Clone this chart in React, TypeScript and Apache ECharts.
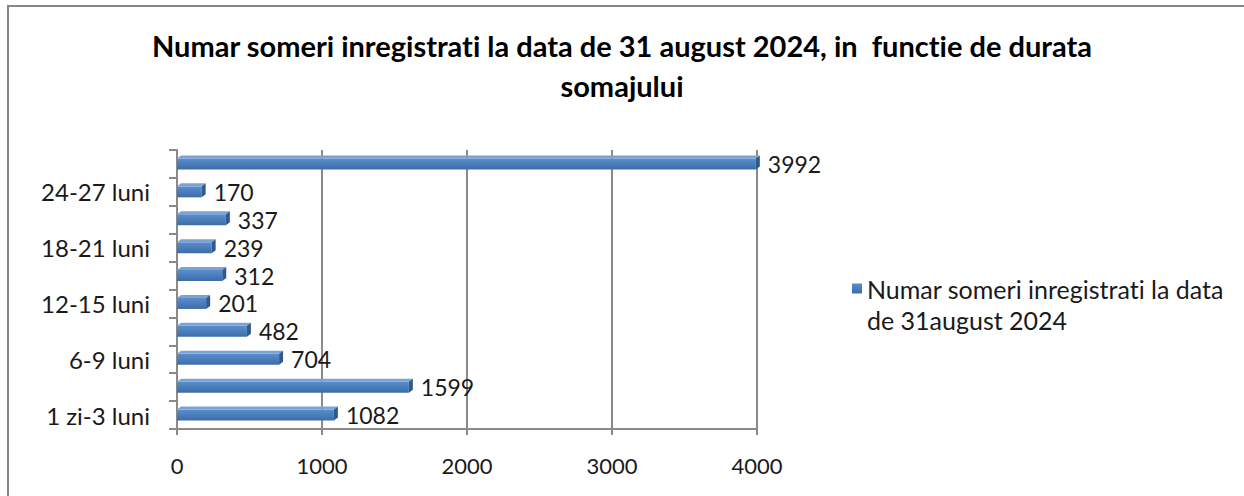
import React, { useEffect, useRef } from "react";
import * as echarts from "echarts";

const categories = [
  "1 zi-3 luni",
  "3-6 luni",
  "6-9 luni",
  "9-12 luni",
  "12-15 luni",
  "15-18 luni",
  "18-21 luni",
  "21-24 luni",
  "24-27 luni",
  "peste 27 luni",
];
const values = [1082, 1599, 704, 482, 201, 312, 239, 337, 170, 3992];
const xMin = 0;
const xMax = 4000;
const xInterval = 1000;
const titleText =
  "Numar someri inregistrati la data de 31 august 2024, in  functie de durata\nsomajului";
const seriesName = "Numar someri inregistrati la data de 31august 2024";
const legendLines = ["Numar someri inregistrati la data", "de 31august 2024"];

const FONT = "Lato, 'Open Sans', 'Noto Sans', sans-serif";

export default function App() {
  const ref = useRef<HTMLDivElement>(null);
  useEffect(() => {
    if (!ref.current) return;
    const chart = echarts.init(ref.current, undefined, { renderer: "svg" });
    const capData = values.map((v, i) => [v, i]);
    chart.setOption({
      animation: false,
      backgroundColor: "#ffffff",
      textStyle: { fontFamily: FONT },
      title: {
        text: titleText,
        left: "center",
        top: 20,
        padding: [5, 5, 5, 23],
        textStyle: {
          fontFamily: FONT,
          fontWeight: "bold",
          fontSize: 29,
          lineHeight: 40,
          color: "#000",
        },
      },
      graphic: [
        {
          type: "rect",
          shape: { x: 8, y: 6, width: 1400, height: 700 },
          style: { fill: "none", stroke: "#868686", lineWidth: 2 },
          silent: true,
          z: -10,
        },
      ],
      legend: {
        show: true,
        left: 847,
        top: 237,
        orient: "vertical",
        icon: "rect",
        itemWidth: 10,
        itemHeight: 10,
        itemGap: 6,
        data: [seriesName],
        formatter: () => " \n" + legendLines.join("\n"),
        textStyle: {
          fontFamily: FONT,
          fontSize: 25,
          lineHeight: 31,
          color: "#1a1a1a",
        },
      },
      grid: { left: 177, right: 487, top: 150, bottom: 67, containLabel: false },
      xAxis: {
        type: "value",
        min: xMin,
        max: xMax,
        interval: xInterval,
        axisLine: { show: true, lineStyle: { color: "#8a8a8a", width: 2 } },
        axisTick: { show: true, length: 6, lineStyle: { color: "#8a8a8a", width: 2 } },
        splitLine: { show: true, lineStyle: { color: "#8a8a8a", width: 2 } },
        axisLabel: {
          fontFamily: FONT,
          fontSize: 22,
          color: "#1a1a1a",
          margin: 25,
          formatter: (v: number) => String(v),
        },
      },
      yAxis: {
        type: "category",
        data: categories,
        axisLine: { show: true, lineStyle: { color: "#8a8a8a", width: 2 } },
        axisTick: { show: true, interval: 0, length: 8, lineStyle: { color: "#8a8a8a", width: 2 } },
        axisLabel: {
          interval: 1,
          fontFamily: FONT,
          fontSize: 24,
          color: "#1a1a1a",
          margin: 27,
        },
      },
      series: [
        {
          name: seriesName,
          type: "bar",
          data: values,
          barWidth: 11,
          itemStyle: {
            color: new echarts.graphic.LinearGradient(0, 0, 0, 1, [
              { offset: 0, color: "#5b8dcc" },
              { offset: 0.5, color: "#4a7ebb" },
              { offset: 1, color: "#3e6ca6" },
            ]),
          },
          label: {
            show: true,
            position: "right",
            distance: 12,
            fontFamily: FONT,
            fontSize: 23,
            color: "#1a1a1a",
          },
          z: 2,
        },
        {
          name: "cap",
          type: "custom",
          data: capData,
          encode: { x: 0, y: 1 },
          silent: true,
          z: 3,
          renderItem: (params: any, api: any) => {
            const end = api.coord([api.value(0), api.value(1)]);
            const start = api.coord([0, api.value(1)]);
            const h = 11;
            const d = 4;
            const x = end[0];
            const y = end[1];
            return {
              type: "group",
              children: [
                {
                  type: "polygon",
                  shape: {
                    points: [
                      [start[0], y - h / 2],
                      [start[0] + d, y - h / 2 - 3],
                      [x + d, y - h / 2 - 3],
                      [x, y - h / 2],
                    ],
                  },
                  style: { fill: "#7ba3d6" },
                },
                {
                  type: "polygon",
                  shape: {
                    points: [
                      [x, y - h / 2],
                      [x + d, y - h / 2 - 3],
                      [x + d, y + h / 2 - 3],
                      [x, y + h / 2],
                    ],
                  },
                  style: { fill: "#2f5a8e" },
                },
              ],
            };
          },
        },
      ],
    });
    return () => chart.dispose();
  }, []);
  return (
    <div
      ref={ref}
      style={{
        position: "fixed",
        left: 0,
        top: 0,
        width: 1244,
        height: 496,
        fontVariantLigatures: "none",
        fontFeatureSettings: '"liga" 0, "clig" 0',
      }}
    />
  );
}
